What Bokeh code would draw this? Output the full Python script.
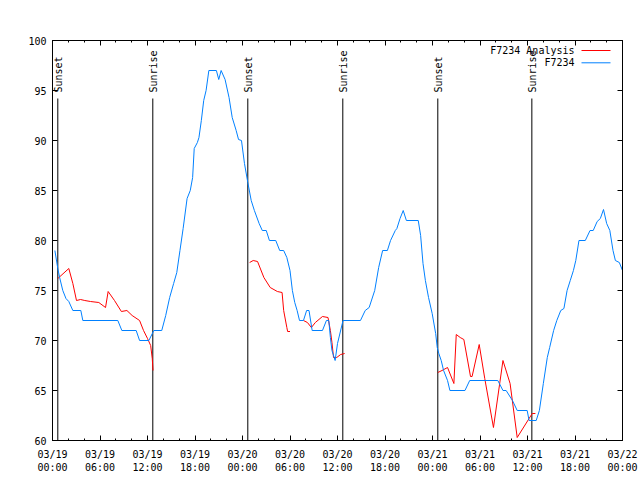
import math
from bokeh.plotting import figure
from bokeh.models import FixedTicker, LinearAxis, Range1d, Label, CustomJSTickFormatter
from bokeh.embed import file_html
from bokeh.resources import INLINE

FONT = "DejaVu Sans Mono"
NAN = float("nan")

# ---- data (hours since 2025-03-19 00:00 UTC, degrees F) ----
obs_hours = [0.3, 0.67, 0.9, 1.3, 1.7, 2.06, 2.57, 3.58, 3.83, 8.25, 8.76, 10.57, 11.0, 12.17,
             12.8, 13.8, 14.3, 14.8, 15.3, 15.7, 16.1, 16.5, 17.0, 17.4, 17.7, 17.9, 18.3, 18.5,
             18.8, 19.1, 19.4, 19.75, 20.7, 21.0, 21.3, 21.8, 22.3, 22.7, 23.2, 23.5, 23.87, 24.25,
             24.67, 25.1, 25.5, 26.1, 26.5, 27.0, 27.4, 28.2, 28.7, 29.2, 29.6, 30.0, 30.3, 30.6,
             30.9, 31.2, 31.7, 32.1, 32.4, 32.8, 34.1, 34.6, 34.9, 35.1, 35.3, 35.7, 36.0, 36.7,
             38.9, 39.5, 40.0, 40.7, 41.2, 41.7, 42.3, 42.7, 43.3, 43.5, 43.9, 44.3, 44.7, 46.2,
             46.5, 46.8, 47.1, 47.5, 47.96, 48.4, 48.6, 48.8, 49.1, 49.4, 49.9, 50.2, 52.1, 52.7,
             56.25, 56.9, 57.3, 58.1, 58.7, 59.96, 60.2, 61.1, 61.5, 62.0, 62.5, 62.8, 63.3, 63.7,
             64.2, 64.6, 65.0, 65.4, 65.8, 66.1, 66.5, 67.3, 67.9, 68.3, 68.8, 69.2, 69.6, 70.0,
             70.4, 70.8, 71.1, 71.6, 72.0]
obs_temp = [79.0, 77.2, 76.3, 75.0, 74.2, 73.9, 73.0, 73.0, 72.0, 72.0, 71.0, 71.0, 70.0, 70.0,
            71.0, 71.0, 72.5, 74.3, 75.7, 76.8, 79.0, 81.2, 84.2, 85.0, 86.3, 89.2, 89.8, 90.3,
            92.0, 94.0, 95.0, 97.0, 97.0, 96.1, 97.0, 96.1, 94.3, 92.3, 91.0, 90.1, 90.0, 87.7,
            85.8, 84.0, 83.0, 81.7, 81.0, 81.0, 80.0, 80.0, 79.0, 79.0, 78.3, 77.0, 75.0, 73.8,
            73.0, 72.0, 72.0, 73.0, 73.0, 71.0, 71.0, 72.0, 72.0, 70.3, 69.0, 68.0, 69.7, 72.0,
            72.0, 73.0, 73.3, 75.0, 77.3, 79.0, 79.0, 80.0, 81.0, 81.2, 82.2, 83.0, 82.0, 82.0,
            80.5, 77.7, 76.0, 74.3, 72.7, 70.7, 69.3, 68.7, 68.0, 67.0, 66.0, 65.0, 65.0, 66.0,
            66.0, 65.0, 65.0, 64.0, 63.0, 63.0, 62.0, 62.0, 63.0, 65.7, 68.3, 69.3, 71.0, 72.0,
            73.0, 73.2, 75.0, 76.0, 77.0, 78.0, 80.0, 80.0, 81.0, 81.0, 81.9, 82.2, 83.1, 81.7,
            81.0, 79.0, 78.0, 77.8, 77.0]

ana_hours = [0.67, 2.06, 2.57, 3.03, 3.54, 4.08, 4.8, 5.85, 6.7, 7.03, 7.83, 8.7, 9.4, 10.06,
             11.0, 11.5, 12.0, 12.4, 12.6, 12.7, NAN,
             24.9, 25.35, 25.9, 26.7, 27.5, 28.4, 29.0, 29.2, 29.6, 29.7, 30.0, NAN,
             31.7, 32.2, 32.7, 33.2, 34.1, 34.8, 35.1, 35.3, 35.5, 35.9, 36.4, 36.9, NAN,
             48.67, 49.2, 49.9, 50.7, 51.0, 51.5, 51.96, 52.8, 53.0, 53.9, 54.6, 55.7, 56.9,
             57.8, 58.7, 60.2, 60.6, 61.0]
ana_temp = [76.2, 77.2, 75.7, 74.0, 74.1, 74.0, 73.9, 73.8, 73.3, 74.9, 74.0, 72.9, 73.0, 72.5,
            72.0, 71.0, 70.2, 69.5, 68.2, 67.0, NAN,
            77.8, 78.0, 77.9, 76.3, 75.3, 74.9, 74.8, 73.0, 71.3, 70.9, 70.9, NAN,
            72.0, 71.8, 71.3, 71.8, 72.4, 72.3, 71.0, 69.8, 68.3, 68.3, 68.6, 68.7, NAN,
            66.8, 67.0, 67.3, 65.7, 70.6, 70.3, 70.1, 66.4, 66.4, 69.6, 66.2, 61.3, 68.0,
            65.7, 60.3, 62.2, 62.7, 62.7]

sun_hours = [0.67, 12.67, 24.67, 36.67, 48.67, 60.55]
sun_names = ["Sunset", "Sunrise", "Sunset", "Sunrise", "Sunset", "Sunrise"]

x_tick_hours = [0, 6, 12, 18, 24, 30, 36, 42, 48, 54, 60, 66, 72]
x_tick_labels = ["03/19\n00:00", "03/19\n06:00", "03/19\n12:00", "03/19\n18:00",
                 "03/20\n00:00", "03/20\n06:00", "03/20\n12:00", "03/20\n18:00",
                 "03/21\n00:00", "03/21\n06:00", "03/21\n12:00", "03/21\n18:00",
                 "03/22\n00:00"]
x_minor_hours = list(range(0, 73, 2))
y_ticks = [60, 65, 70, 75, 80, 85, 90, 95, 100]

series_names = ["F7234 Analysis", "F7234"]
series_colors = ["#ff0000", "#0080ff"]

# ---- layout constants ----
X0, X1, Y0, Y1 = 0, 72, 60, 100
FRAME_W, FRAME_H = 570, 400
px_x = (X1 - X0) / FRAME_W   # hours per pixel
px_y = (Y1 - Y0) / FRAME_H   # degrees per pixel

p = figure(width=640, height=480, x_range=Range1d(X0, X1), y_range=Range1d(Y0, Y1),
           output_backend="svg", toolbar_location=None,
           min_border_left=52, min_border_right=18, min_border_top=40, min_border_bottom=40)
p.background_fill_color = "white"
p.border_fill_color = "white"
p.outline_line_color = "black"
p.outline_line_width = 1
p.grid.visible = False

def style_axis(ax, labels=True):
    ax.axis_line_color = "black"
    ax.major_tick_line_color = "black"
    ax.minor_tick_line_color = "black"
    ax.major_tick_in = 5
    ax.major_tick_out = 0
    ax.minor_tick_in = 2
    ax.minor_tick_out = 0
    ax.major_label_text_font = FONT
    ax.major_label_text_color = "black"
    ax.major_label_text_font_size = "10px"
    if labels:
        ax.major_label_standoff = 6
    else:
        ax.formatter = CustomJSTickFormatter(code="return ''")
        ax.major_label_standoff = 0

xt = FixedTicker(ticks=x_tick_hours, minor_ticks=x_minor_hours)
yt = FixedTicker(ticks=y_ticks, minor_ticks=[])

p.xaxis.ticker = xt
p.xaxis.major_label_overrides = {h: lab for h, lab in zip(x_tick_hours, x_tick_labels)}
p.yaxis.ticker = yt
style_axis(p.xaxis[0])
style_axis(p.yaxis[0])
p.xaxis.major_label_standoff = 8

top = LinearAxis(ticker=FixedTicker(ticks=x_tick_hours, minor_ticks=x_minor_hours))
style_axis(top, labels=False)
p.add_layout(top, "above")
right = LinearAxis(ticker=FixedTicker(ticks=y_ticks, minor_ticks=[]))
style_axis(right, labels=False)
p.add_layout(right, "right")

# sunrise / sunset markers
sun_top = Y1 - 58 * px_y
p.segment(x0=sun_hours, y0=[Y0] * len(sun_hours), x1=sun_hours, y1=[sun_top] * len(sun_hours),
          line_color="black", line_width=1)
for h, name in zip(sun_hours, sun_names):
    p.add_layout(Label(x=h, y=Y1 - 52 * px_y, text=name, angle=math.pi / 2,
                       text_align="left", text_baseline="alphabetic", x_offset=1,
                       text_font=FONT, text_font_size="10px", text_color="black"))

# series
p.line(ana_hours, ana_temp, line_color=series_colors[0], line_width=1)
p.line(obs_hours, obs_temp, line_color=series_colors[1], line_width=1)

# legend (text right-aligned, sample to the right)
for i, (name, col) in enumerate(zip(series_names, series_colors)):
    ly = Y1 - (10 + 12.3 * i) * px_y
    p.add_layout(Label(x=X0 + 522 * px_x, y=ly, text=name, text_align="right",
                       text_baseline="middle", text_font=FONT, text_font_size="10px",
                       text_color="black"))
    p.segment(x0=[X0 + 529 * px_x], y0=[ly], x1=[X0 + 558 * px_x], y1=[ly],
              line_color=col, line_width=1)

# title and y label
p.add_layout(Label(x=(X0 + X1) / 2, y=Y1 + 20 * px_y, text="Temperature for F7234 on 2025-Mar-19 (time in UTC)",
                   text_align="center", text_baseline="middle", text_font=FONT,
                   text_font_size="10px", text_color="black"))
p.add_layout(Label(x=X0 - 41.5 * px_x, y=(Y0 + Y1) / 2, text="degrees F", angle=math.pi / 2,
                   text_align="center", text_baseline="middle", text_font=FONT,
                   text_font_size="10px", text_color="black"))

open("out.html", "w").write(file_html(p, INLINE))
